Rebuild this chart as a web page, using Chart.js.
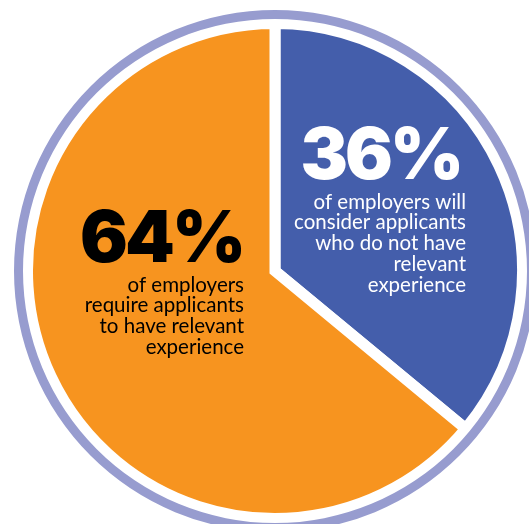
<!DOCTYPE html>
<html>
<head>
<meta charset="utf-8">
<script src="https://cdn.jsdelivr.net/npm/chart.js@4"></script>
<style>
  html, body { margin: 0; padding: 0; background: #fff; overflow: hidden; }
  #pie { display: block; }
</style>
</head>
<body>
<canvas id="pie" width="529" height="524"></canvas>
<script>
// =====================
// DATA
// =====================
const categories = ["Will consider applicants without relevant experience", "Require relevant experience"];
const shares = [36, 64];
const sliceColors = ["#445eab", "#f7941f"];
const headlines = ["36%", "64%"];
const captions = [
    ["of employers will", "consider applicants", "who do not have", "relevant", "experience"],
    ["of employers", "require applicants", "to have relevant", "experience"]
];

// =====================
// TEXT PLUGIN
// =====================
const labelPlugin = {
    id: "labels",
    afterDraw(chart) {
        const ctx = chart.ctx;
        const area = chart.chartArea;
        const cx = (area.left + area.right) / 2;
        const cy = (area.top + area.bottom) / 2;

        // where each block sits, relative to the pie centre
        const blocks = [
            { right: cx + 191, headRight: cx + 186, head: cy - 92, lines: cy - 69, color: "#ffffff" },
            { right: cx - 31, headRight: cx - 32, head: cy - 9, lines: cy + 14, color: "#000000" }
        ];

        ctx.save();
        ctx.textAlign = "right";
        blocks.forEach((b, i) => {
            ctx.fillStyle = b.color;
            ctx.font = "900 71px Inter, Lato, 'DejaVu Sans', sans-serif";
            ctx.letterSpacing = "-3px";
            ctx.textBaseline = "alphabetic";
            ctx.fillText(headlines[i], b.headRight, b.head);

            ctx.font = "20.5px Lato, 'DejaVu Sans', sans-serif";
            ctx.letterSpacing = "0px";
            ctx.textBaseline = "middle";
            captions[i].forEach((line, j) => {
                ctx.fillText(line, b.right, b.lines + j * 20.8);
            });
        });
        ctx.restore();
    }
};

// =====================
// PIE CHART
// =====================
const ctx = document.getElementById("pie");
new Chart(ctx, {
    type: "pie",
    data: {
        labels: categories,
        datasets: [
            {   // outer lavender ring
                data: [1],
                backgroundColor: ["#979ccf"],
                borderWidth: 0,
                weight: 9,
                clip: false
            },
            {   // white gap between ring and pie
                data: [1],
                backgroundColor: ["#ffffff"],
                borderWidth: 0,
                weight: 4.5,
                clip: false
            },
            {
                data: shares,
                backgroundColor: sliceColors,
                borderColor: "#ffffff",
                borderWidth: 11,
                borderJoinStyle: "miter",
                weight: 247.5,
                clip: false
            }
        ]
    },
    options: {
        responsive: false,
        animation: false,
        radius: 261,
        layout: { padding: { left: 21, top: 18, right: 0, bottom: 0 } },
        plugins: {
            legend: { display: false },
            tooltip: { enabled: false }
        }
    },
    plugins: [labelPlugin]
});
</script>
</body>
</html>
